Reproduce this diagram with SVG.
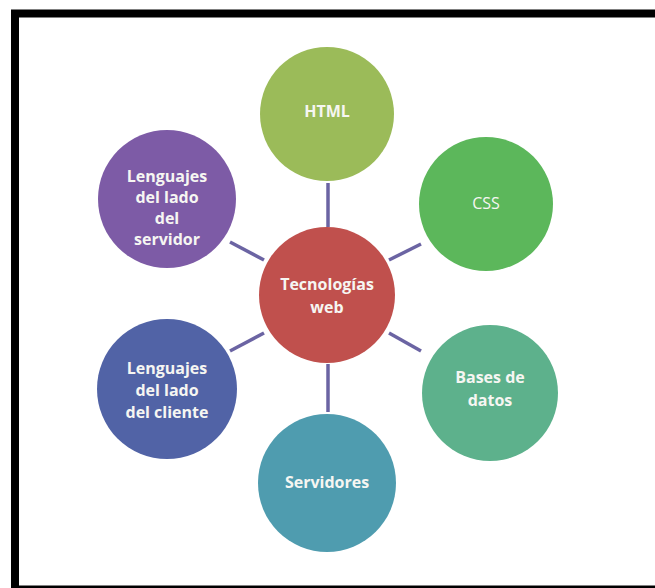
<svg xmlns="http://www.w3.org/2000/svg" width="655" height="588" viewBox="0 0 655 588">
<style>
  .lbl { font-family: "Open Sans", "Noto Sans", "Liberation Sans", sans-serif; font-weight: bold; font-size: 16px; fill: #f6f6f2; text-anchor: middle; }
  .thin { font-weight: normal; }
  .conn line { stroke: #6b64a3; stroke-width: 3.5; stroke-linecap: butt; }
  .node { stroke: none; }
</style>
<rect x="0" y="0" width="655" height="588" fill="#ffffff"/>
<rect id="frame" x="15" y="13.5" width="700" height="576" fill="none" stroke="#000000" stroke-width="8"/>
<g id="connectors" class="conn">
  <line x1="328" y1="183" x2="328" y2="227"/>
  <line x1="328" y1="364" x2="328" y2="412"/>
  <line x1="230" y1="242" x2="264" y2="260"/>
  <line x1="389" y1="260" x2="421" y2="244"/>
  <line x1="264" y1="333" x2="230" y2="351"/>
  <line x1="389" y1="333" x2="421" y2="351"/>
</g>
<g id="node-center">
  <circle class="node" cx="327" cy="295" r="68" fill="#c0504d"/>
  <text class="lbl" x="327" y="290">Tecnologías</text>
  <text class="lbl" x="327" y="313">web</text>
</g>
<g id="node-html">
  <circle class="node" cx="327" cy="114" r="67" fill="#9bbb59"/>
  <text class="lbl" x="327" y="117">HTML</text>
</g>
<g id="node-css">
  <circle class="node" cx="486" cy="204" r="67" fill="#5cb75b"/>
  <text class="lbl thin" x="486" y="209">CSS</text>
</g>
<g id="node-bd">
  <circle class="node" cx="490" cy="393" r="68" fill="#5db18c"/>
  <text class="lbl" x="490" y="383">Bases de</text>
  <text class="lbl" x="490" y="406">datos</text>
</g>
<g id="node-servidores">
  <circle class="node" cx="327" cy="483" r="69" fill="#4f9caf"/>
  <text class="lbl" x="327" y="488">Servidores</text>
</g>
<g id="node-cliente">
  <circle class="node" cx="167" cy="389" r="70" fill="#5163a6"/>
  <text class="lbl" x="167" y="374">Lenguajes</text>
  <text class="lbl" x="167" y="396">del lado</text>
  <text class="lbl" x="167" y="418">del cliente</text>
</g>
<g id="node-servidor">
  <circle class="node" cx="167" cy="199" r="69" fill="#7d5ba6"/>
  <text class="lbl" x="167" y="182">Lenguajes</text>
  <text class="lbl" x="167" y="203">del lado</text>
  <text class="lbl" x="167" y="224">del</text>
  <text class="lbl" x="167" y="245">servidor</text>
</g>
</svg>
